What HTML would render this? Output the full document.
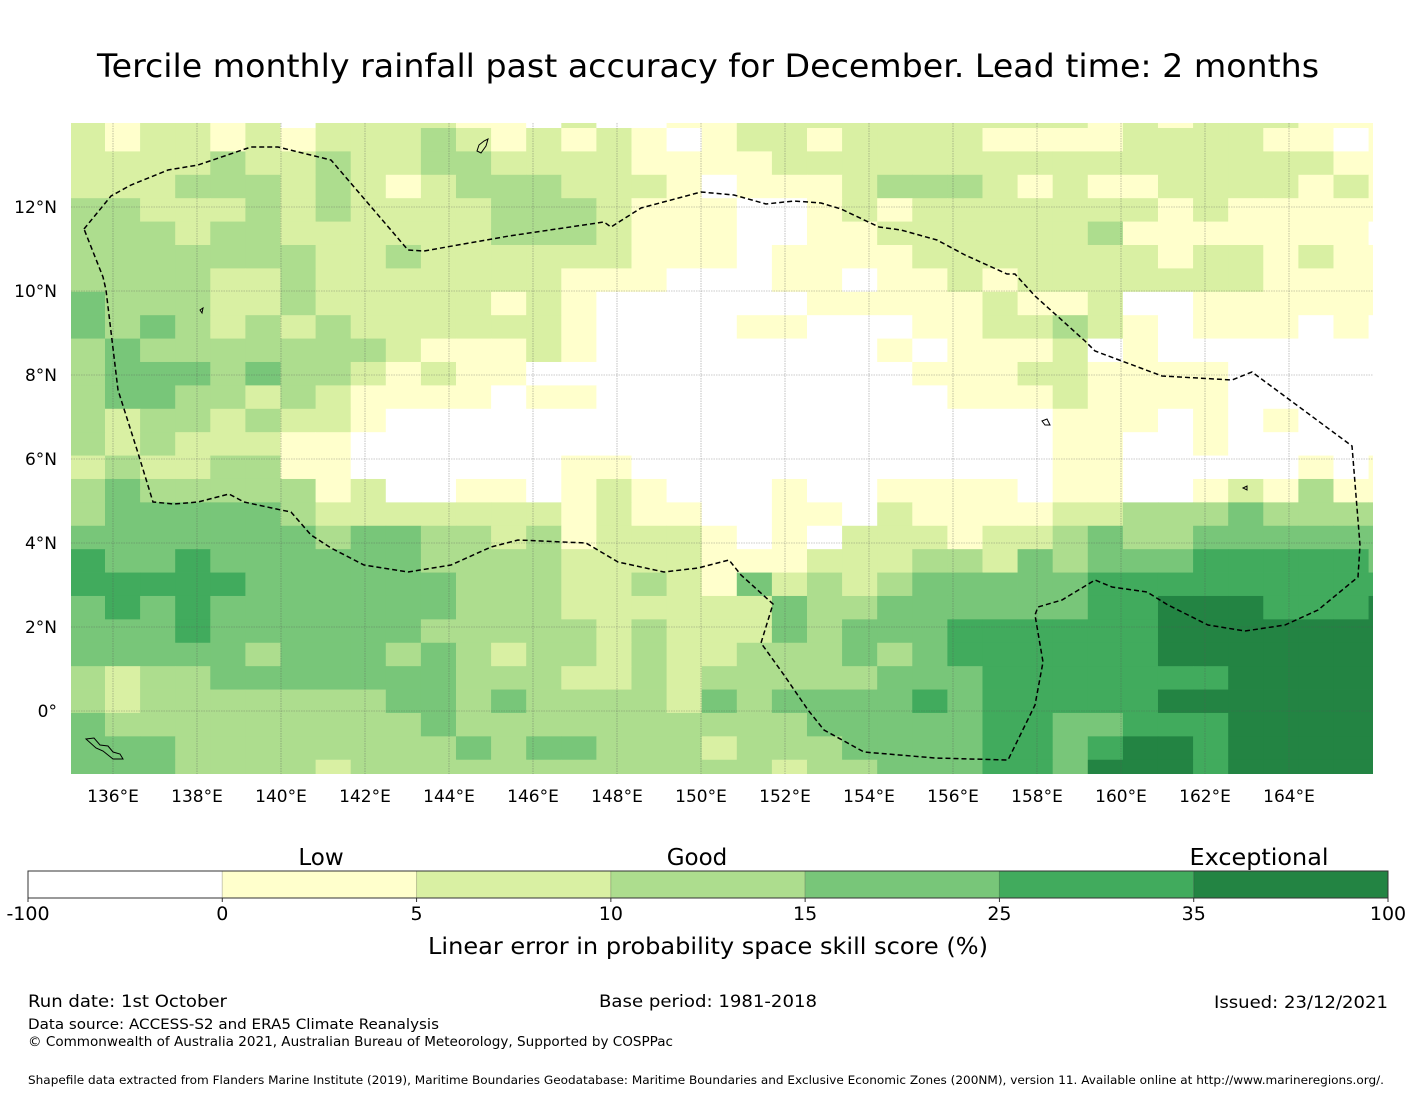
<!DOCTYPE html>
<html><head><meta charset="utf-8"><style>
html,body{margin:0;padding:0;background:#fff;}
svg{display:block;font-family:"DejaVu Sans","Liberation Sans",sans-serif;}
</style></head><body>
<svg id="chart" width="1416" height="1095" viewBox="0 0 1416 1095" xmlns="http://www.w3.org/2000/svg">
<defs><clipPath id="mapclip"><rect x="71" y="123" width="1302" height="651"/></clipPath></defs>
<text x="708" y="77" text-anchor="middle" font-size="32" textLength="1222" lengthAdjust="spacingAndGlyphs">Tercile monthly rainfall past accuracy for December. Lead time: 2 months</text>
<g id="cells" clip-path="url(#mapclip)"></g>
<g id="grid" clip-path="url(#mapclip)"></g>
<polyline clip-path="url(#mapclip)" fill="none" stroke="#000" stroke-width="1.5" stroke-dasharray="5,3"
points="84,229 111,196 131,185 168,170 198,165 251,147 278,147 331,160 408,250 424,251 509,236 604,222 611,227 641,208 701,192 734,195 766,204 794,201 821,203 841,209 879,227 901,230 937,240 965,255 1007,274 1015,274 1035,296 1085,341 1095,351 1162,376 1232,380 1252,372 1352,446 1360,545 1358,577 1318,610 1285,625 1245,631 1208,625 1168,605 1147,592 1112,587 1095,580 1062,600 1038,607 1035,615 1043,662 1035,705 1008,760 935,758 864,752 824,730 808,710 784,675 761,643 773,604 741,575 729,560 698,568 664,572 618,562 586,543 518,540 491,547 451,565 408,572 364,565 331,548 311,535 291,512 281,510 244,502 229,494 198,502 174,504 153,502 138,453 118,390 106,290 103,277 84,229"/>
<g id="islands" fill="none" stroke="#000" stroke-width="1">
<path d="M86,739 L94,738 L100,745 L108,746 L113,752 L120,754 L123,759 L113,759 L103,751 L96,748 Z"/>
<path d="M479,145 L484,141 L488,139 L486,146 L481,153 L477,151 Z"/>
<path d="M1042,421 L1047,419 L1050,425 L1045,425 Z"/>
<path d="M200,310 L203,308 L202,313 Z"/>
<path d="M1243,488 L1247,486 L1247,490 Z"/>
</g>
<g id="xticks" font-size="17" text-anchor="middle"></g>
<g id="yticks" font-size="17" text-anchor="end"></g>
<g id="cbar"></g>
<text x="321" y="865" text-anchor="middle" font-size="23">Low</text>
<text x="697" y="865" text-anchor="middle" font-size="23">Good</text>
<text x="1259" y="865" text-anchor="middle" font-size="23" textLength="139" lengthAdjust="spacingAndGlyphs">Exceptional</text>
<text x="708" y="954" text-anchor="middle" font-size="23" textLength="560" lengthAdjust="spacingAndGlyphs">Linear error in probability space skill score (%)</text>
<text x="28" y="1007" font-size="17" textLength="199" lengthAdjust="spacingAndGlyphs">Run date: 1st October</text>
<text x="708" y="1007" text-anchor="middle" font-size="17" textLength="218" lengthAdjust="spacingAndGlyphs">Base period: 1981-2018</text>
<text x="1388" y="1008" text-anchor="end" font-size="17" textLength="174" lengthAdjust="spacingAndGlyphs">Issued: 23/12/2021</text>
<text x="28" y="1029" font-size="14.5" textLength="411" lengthAdjust="spacingAndGlyphs">Data source: ACCESS-S2 and ERA5 Climate Reanalysis</text>
<text x="28" y="1046" font-size="13" textLength="645" lengthAdjust="spacingAndGlyphs">© Commonwealth of Australia 2021, Australian Bureau of Meteorology, Supported by COSPPac</text>
<text x="28" y="1084" font-size="11.5" textLength="1356" lengthAdjust="spacingAndGlyphs">Shapefile data extracted from Flanders Marine Institute (2019), Maritime Boundaries Geodatabase: Maritime Boundaries and Exclusive Economic Zones (200NM), version 11. Available online at http://www.marineregions.org/.</text>
</svg>
<script>
const levelColors = ["#ffffff","#ffffcc","#d9f0a3","#addd8e","#78c679","#41ab5d","#238443"];
const cbarTicks = ["-100","0","5","10","15","25","35","100"];
const lonTicks = [136,138,140,142,144,146,148,150,152,154,156,158,160,162,164];
const latTicks = [12,10,8,6,4,2,0];
// each row: 12 west cols + 12 central cols + 14 east cols (skill level 0-6)
const skillWest = [
"212212022221","212212122232","222232232233","222333232123","332223232222",
"333233222222","333333322322","333322322222","433322322222","434323232222",
"343333333211","344434332121","344332321111","323323221000","323222110000",
"232233110000","343333312001","344444322222","444444434433","544544444433",
"555554444443","454544444443","444544444433","444443444343","323344444443",
"323333333443","433333333343","444333333334","444333323333"];
const skillCentral = [
"102001122222","121210122122","222211112222","332221011123","333211100121",
"333211100112","222211101111","221110001101","121000000111","221000011000",
"121000000001","100000000000","011000000000","000000000000","000000000000",
"001100000000","101210001001","221211001102","231222101022","332222111222",
"332232142323","332222224334","333232224344","233232233343","332232333334",
"433332434444","333333333444","344333233344","333333332334"];
const skillEast = [
"22222121222111","22111122221101","22222222222211","33212112222121","22222221211111",
"22222311111110","22222221221211","12122222221111","11211200111111","11223210111010",
"01112010000000","11122111100000","01112111100000","00001110101000","00001100100000",
"00001100000101","11101100121311","11112233343333","21223433444444","33243444555554",
"44444555555555","44444556665556","45555556666666","45555556666666","44555555566666",
"54555556666666","44554455566666","44554566566666","44554666566666"];
</script>
<script>
const NS="http://www.w3.org/2000/svg";
function lonToX(lon){return 113+(lon-136)*42;}
function latToY(lat){return 207-(lat-12)*42;}
const CELL_DLON=0.8357, CELL_DLAT=0.5571;
const lon0=135.8095, lat0=13.8810;
function colLon(k){return lon0+(k-1)*CELL_DLON;}
function rowLat(k){return lat0-(k-1)*CELL_DLAT;}
const cells=document.getElementById('cells');
skillWest.forEach((w,r)=>{
  const row=w+skillCentral[r]+skillEast[r];
  for(let c=0;c<row.length;c++){
    const lv=+row[c];
    const x0=lonToX(colLon(c===0?-1:c));
    const x1=lonToX(colLon(c+1));
    const y0=latToY(rowLat(r===0?-1:r));
    const y1=latToY(rowLat(r+1));
    const el=document.createElementNS(NS,'rect');
    el.setAttribute('x',x0.toFixed(2));el.setAttribute('y',y0.toFixed(2));
    el.setAttribute('width',(x1-x0+0.4).toFixed(2));el.setAttribute('height',(y1-y0+0.4).toFixed(2));
    el.setAttribute('fill',levelColors[lv]);
    
    
    cells.appendChild(el);
  }
});
const grid=document.getElementById('grid');
const xt=document.getElementById('xticks');
lonTicks.forEach(l=>{
  const x=lonToX(l);
  const ln=document.createElementNS(NS,'line');
  ln.setAttribute('x1',x);ln.setAttribute('x2',x);ln.setAttribute('y1',123);ln.setAttribute('y2',774);
  ln.setAttribute('stroke','#555');ln.setAttribute('stroke-width','0.6');ln.setAttribute('stroke-dasharray','1.5,1');ln.setAttribute('opacity','0.6');
  
  
  grid.appendChild(ln);
  const t=document.createElementNS(NS,'text');
  t.setAttribute('x',x);t.setAttribute('y',802);t.textContent=l+'°E';
  
  
  xt.appendChild(t);
});
const yt=document.getElementById('yticks');
latTicks.forEach(l=>{
  const y=latToY(l);
  const ln=document.createElementNS(NS,'line');
  ln.setAttribute('x1',71);ln.setAttribute('x2',1373);ln.setAttribute('y1',y);ln.setAttribute('y2',y);
  ln.setAttribute('stroke','#555');ln.setAttribute('stroke-width','0.6');ln.setAttribute('stroke-dasharray','1.5,1');ln.setAttribute('opacity','0.6');
  
  
  grid.appendChild(ln);
  const t=document.createElementNS(NS,'text');
  t.setAttribute('x',57);t.setAttribute('y',y+6);t.textContent=l===0?'0°':l+'°N';
  
  
  yt.appendChild(t);
});
const cb=document.getElementById('cbar');
const cbX0=28,cbX1=1388,cbY=871,cbH=27,seg=(cbX1-cbX0)/(cbarTicks.length-1);
for(let i=0;i<levelColors.length;i++){
  const r=document.createElementNS(NS,'rect');
  r.setAttribute('x',cbX0+i*seg);r.setAttribute('y',cbY);r.setAttribute('width',seg);r.setAttribute('height',cbH);
  r.setAttribute('fill',levelColors[i]);
  r.setAttribute('stroke','rgba(0,0,0,0.15)');
  
  
  cb.appendChild(r);
}
const frame=document.createElementNS(NS,'rect');
frame.setAttribute('x',cbX0);frame.setAttribute('y',cbY);frame.setAttribute('width',cbX1-cbX0);frame.setAttribute('height',cbH);
frame.setAttribute('fill','none');frame.setAttribute('stroke','#333');frame.setAttribute('stroke-width','1');


cb.appendChild(frame);
cbarTicks.forEach((lab,i)=>{
  const x=cbX0+i*seg;
  const tk=document.createElementNS(NS,'line');
  tk.setAttribute('x1',x);tk.setAttribute('x2',x);tk.setAttribute('y1',cbY+cbH);tk.setAttribute('y2',cbY+cbH+4);tk.setAttribute('stroke','#333');
  
  
  cb.appendChild(tk);
  const t=document.createElementNS(NS,'text');
  t.setAttribute('x',x);t.setAttribute('y',920);t.setAttribute('text-anchor','middle');t.setAttribute('font-size','19');
  t.textContent=lab;
  
  
  cb.appendChild(t);
});
</script>
</body></html>
